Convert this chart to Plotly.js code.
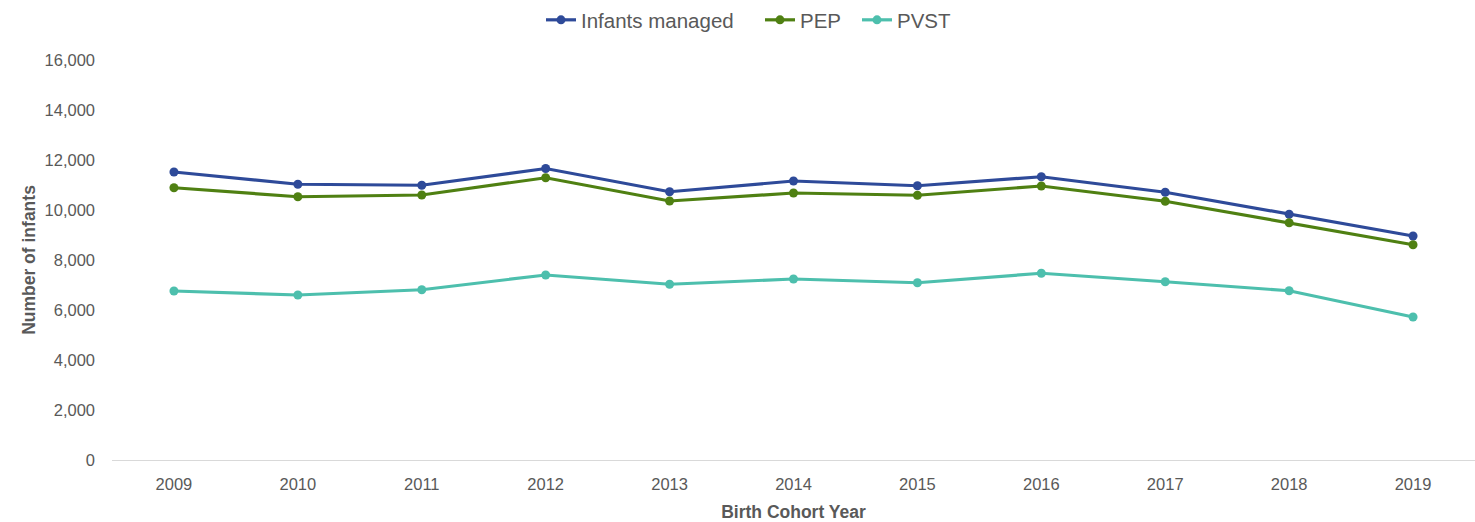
<!DOCTYPE html>
<html>
<head>
<meta charset="utf-8">
<script src="https://cdn.plot.ly/plotly-3.0.1.min.js"></script>
<style>html,body{margin:0;padding:0;background:#fff;}#chart{width:1475px;height:522px;}</style>
</head>
<body>
<div id="chart"></div>
<script>
const years = ['2009','2010','2011','2012','2013','2014','2015','2016','2017','2018','2019'];
const infantsManaged = [11520, 11030, 10990, 11660, 10730, 11160, 10970, 11330, 10710, 9830, 8960];
const pep = [10890, 10530, 10600, 11290, 10360, 10680, 10590, 10960, 10350, 9490, 8610];
const pvst = [6760, 6600, 6810, 7400, 7030, 7240, 7090, 7470, 7130, 6770, 5720];
const yTicks = [0, 2000, 4000, 6000, 8000, 10000, 12000, 14000, 16000];

const font = 'Liberation Sans, Arial, sans-serif';
const txt = '#595959';
function tr(name, y, color, leg) {
  return {x: years, y: y, name: name, type: 'scatter', mode: 'lines+markers', legend: leg,
    line: {color: color, width: 3.2}, marker: {color: color, size: 9}};
}
const data = [
  tr('Infants managed', infantsManaged, '#2E4A99', 'legend'),
  tr('PEP', pep, '#4F8012', 'legend2'),
  tr('PVST', pvst, '#4DBFAD', 'legend3')
];
function leg(px) {
  return {x: (px - 112) / 1363, xanchor: 'left', y: 1 - 20 / 522, yanchor: 'middle', yref: 'container',
    font: {size: 20.5, color: txt}, bgcolor: 'rgba(0,0,0,0)', borderwidth: 0};
}
const layout = {
  width: 1475, height: 522,
  margin: {l: 112, r: 0, t: 60, b: 62},
  paper_bgcolor: '#fff', plot_bgcolor: '#fff',
  font: {family: font, color: txt, size: 16.5},
  showlegend: true,
  legend: leg(541),
  legend2: leg(760),
  legend3: leg(857),
  xaxis: {type: 'category', range: [-0.5, 10.5], showgrid: false, zeroline: false,
    showline: true, linecolor: '#D9D9D9', linewidth: 1, ticks: '', ticklabelstandoff: 9,
    tickfont: {size: 16.5, color: txt},
    title: {text: 'Birth Cohort Year', font: {size: 17.5, color: txt, weight: 'bold'}, standoff: 13}},
  yaxis: {range: [0, 16000], tickvals: yTicks, tickformat: ',d', showgrid: false, zeroline: false,
    showline: false, ticks: '', ticklabelstandoff: 16, tickfont: {size: 16.5, color: txt},
    title: {text: 'Number of infants', font: {size: 17.5, color: txt, weight: 'bold'}, standoff: 4}}
};
Plotly.newPlot('chart', data, layout, {displayModeBar: false, staticPlot: true});
</script>
</body>
</html>
